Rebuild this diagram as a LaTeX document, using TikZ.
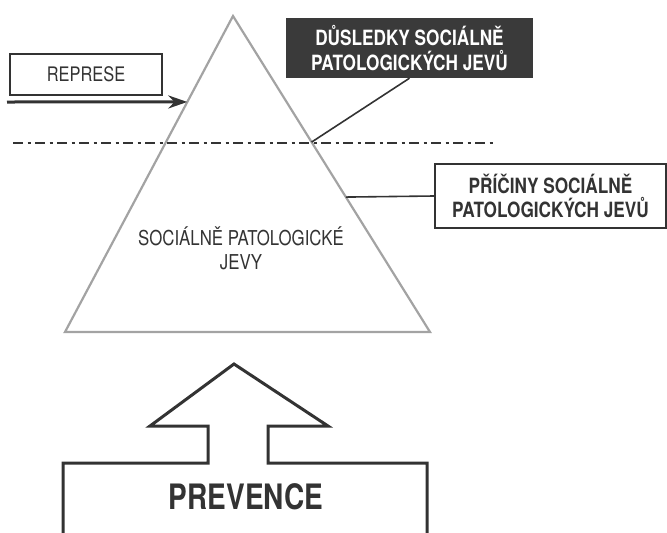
\documentclass[tikz,border=0pt]{standalone}
\usepackage{fontspec}
\setmainfont{TeX Gyre Heros}[FakeStretch=0.82]
\newfontfamily\narrowfont{TeX Gyre Heros}[FakeStretch=0.8]
\usetikzlibrary{calc,arrows.meta}
\definecolor{ink}{HTML}{333333}
\definecolor{pyrgrey}{HTML}{A3A3A3}
\definecolor{darkfill}{HTML}{3A3A3A}

\begin{document}
\begin{tikzpicture}
        [
            x=1pt, y=-1pt,
            box/.style={rectangle, draw=ink, line width=2pt, inner sep=0pt, align=center, text=ink},
            darkbox/.style={rectangle, fill=darkfill, text=white, inner sep=0pt, align=center, font=\fontsize{21}{25}\selectfont\bfseries},
            link/.style={draw=ink, line width=1.6pt}
        ]
        \useasboundingbox (0,0) rectangle (667,533);
        % pyramid
        \coordinate (apex) at (233,16);
        \coordinate (bl) at (65,332);
        \coordinate (br) at (430,332);
        \draw[pyrgrey, line width=2.2pt, line join=miter] (apex) -- (br) -- (bl) -- cycle;
        \coordinate (hitL) at ($(apex)!0.272!(bl)$);
        \coordinate (hitR1) at ($(apex)!0.399!(br)$);
        \coordinate (hitR2) at ($(apex)!0.573!(br)$);
        \node (jevy) [align=center, text=ink, font=\fontsize{20.5}{24}\selectfont] at (241,248) {SOCIÁLNĚ PATOLOGICKÉ\\JEVY};
        % water line
        \coordinate (lineL) at (13,143);
        \coordinate (lineR) at (497,143);
        \draw[ink, line width=1.6pt, dash pattern=on 10pt off 4.5pt on 3pt off 4.5pt] (lineL) -- (lineR);
        % REPRESE
        \node (represe) [box, minimum width=152pt, minimum height=41pt, font=\fontsize{20}{24}\selectfont] at (86,74.5) {REPRESE};
        \coordinate (repstart) at (7,102);
        \draw[ink, line width=3pt, -{Stealth[length=19pt, width=13pt]}] (repstart) -- (hitL);
        % DUSLEDKY
        \node (dusledky) [darkbox, minimum width=247pt, minimum height=60pt] at (409.5,48) {DŮSLEDKY SOCIÁLNĚ\\PATOLOGICKÝCH JEVŮ};
        \draw[link] (dusledky.south) -- (hitR1);
        % PRICINY
        \node (priciny) [box, minimum width=231pt, minimum height=64pt, font=\fontsize{21}{24}\selectfont\bfseries] at (550.5,196) {PŘÍČINY SOCIÁLNĚ\\PATOLOGICKÝCH JEVŮ};
        \draw[link] (priciny.west) -- (hitR2);
        % PREVENCE
        \draw[ink, line width=3pt, line join=miter] (63,533) -- (63,463) -- (208,463) -- (208,426) -- (150,426) -- (234,364) -- (328,426) -- (268,426) -- (268,463) -- (427,463) -- (427,533);
        \node (prevence) [text=ink, font=\narrowfont\bfseries\fontsize{35}{40}\selectfont] at (246,497) {PREVENCE};
    \end{tikzpicture}
\end{document}
